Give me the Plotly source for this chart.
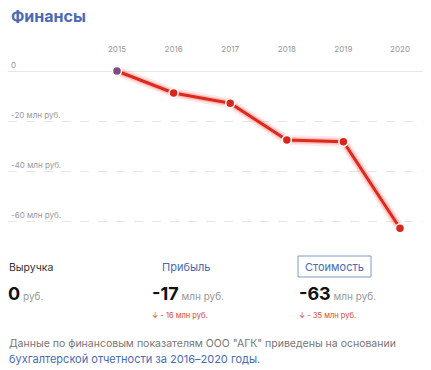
import plotly.graph_objects as go

years = [2015, 2016, 2017, 2018, 2019, 2020]
value_mln = [0, -8.8, -12.9, -27.6, -28.3, -62.9]
ytick_vals = [0, -20, -40, -60]
ytick_text = ["0", "-20 млн руб.", "-40 млн руб.", "-60 млн руб."]
point_colors = ["#7d4a85", "#d8261d", "#d8261d", "#d8261d", "#d8261d", "#d8261d"]

# page body adds an 8px margin; compensate
OFF = 8
W, H = 431 - OFF, 370 - OFF
def px(x):
    return (x - OFF) / W
def py(y):
    return 1 - (y - OFF) / H

fig = go.Figure()
# glow
fig.add_trace(go.Scatter(x=years, y=value_mln, mode="lines",
                         line=dict(color="rgba(255,40,30,0.10)", width=10),
                         hoverinfo="skip", showlegend=False))
fig.add_trace(go.Scatter(x=years, y=value_mln, mode="lines",
                         line=dict(color="rgba(255,40,30,0.22)", width=6),
                         hoverinfo="skip", showlegend=False))
fig.add_trace(go.Scatter(x=years, y=value_mln, mode="lines+markers",
                         line=dict(color="#dc2a1e", width=3),
                         marker=dict(size=9, color=point_colors,
                                     line=dict(color="white", width=1.5)),
                         showlegend=False))

GRID = "#e6e6e6"
fig.update_layout(
    width=W, height=H,
    margin=dict(l=0, r=0, t=0, b=0),
    paper_bgcolor="white", plot_bgcolor="white",
    font=dict(family="Inter, 'Open Sans', sans-serif", color="#333"),
    xaxis=dict(domain=[px(8), px(427)], range=[2013.074, 2020.477],
               side="top", tickvals=years, ticktext=[str(y) for y in years],
               tickfont=dict(size=8, color="#999"),
               ticks="outside", ticklen=4, tickcolor="rgba(0,0,0,0)",
               showgrid=False, zeroline=False, showline=False),
    yaxis=dict(domain=[py(240), py(60)], range=[-67.6, 4.4],
               tickvals=ytick_vals, ticktext=ytick_text,
               ticklabelposition="inside top",
               tickfont=dict(size=8, color="#999"),
               showgrid=True, gridcolor=GRID, griddash="dash", gridwidth=1,
               zeroline=True, zerolinecolor=GRID, zerolinewidth=1,
               showline=False),
)

def ann(x, y, text, size, color, bold=False, anchor="left"):
    if bold:
        text = "<b>" + text + "</b>"
    fig.add_annotation(x=px(x), y=py(y), xref="paper", yref="paper",
                       text=text, showarrow=False, xanchor=anchor, yanchor="middle",
                       font=dict(size=size, color=color))

ann(8.5, 16, "Финансы", 16, "#4a6bb3", bold=True)

ann(7, 267, "Выручка", 10.5, "#333")
ann(160, 267, "Прибыль", 11, "#4a6bb3")
fig.add_shape(type="rect", xref="paper", yref="paper",
              x0=px(298), x1=px(371), y0=py(277), y1=py(256),
              line=dict(color="#7a9cc6", width=1), fillcolor="white")
ann(334.5, 266.5, "Стоимость", 11, "#4a6bb3", anchor="center")

ann(6, 293, "<b><span style='font-size:18px;color:#111'>0</span></b> <span style='font-size:10px;color:#999'>руб.</span>", 10, "#999")
ann(150, 293, "<b><span style='font-size:18px;color:#111'>-17</span></b> <span style='font-size:10px;color:#999'>млн руб.</span>", 10, "#999")
ann(297, 293, "<b><span style='font-size:18px;color:#111'>-63</span></b> <span style='font-size:10px;color:#999'>млн руб.</span>", 10, "#999")

ann(150, 315, "↓ - 16 млн руб.", 7.5, "#d9443a")
ann(297, 315, "↓ - 35 млн руб.", 7.5, "#d9443a")

ann(7, 343, "Данные по финансовым показателям ООО \"АГК\" приведены на основании", 10.5, "#777")
ann(7, 359, "<span style='color:#4a6bb3'>бухгалтерской отчетности за 2016–2020 годы</span>.", 11, "#777")

fig.write_html("out.html")
